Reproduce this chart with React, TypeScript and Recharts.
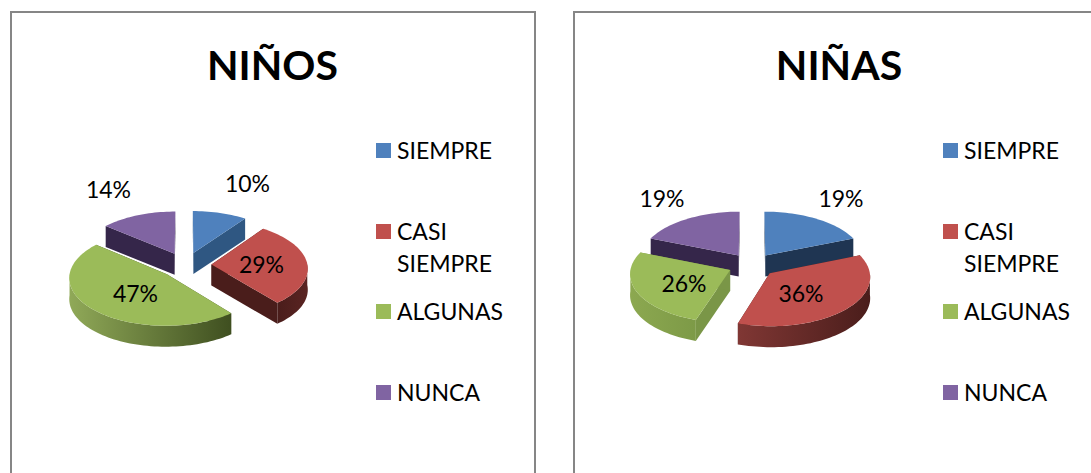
import { Legend, Pie, PieChart } from 'recharts';

const categories = ['SIEMPRE', 'CASI SIEMPRE', 'ALGUNAS', 'NUNCA'];
const ninosValues = [10, 29, 47, 14];
const ninasValues = [19, 36, 26, 19];
const topColors = ['#4f81bd', '#c0504d', '#9bbb59', '#8064a2'];

const FONT = 'Lato, "Open Sans", sans-serif';
const CHART_W = 522;
const CHART_H = 476;
const TILT = 0.49; // vertical squash of the disc
const PERSPECTIVE = 0.07;
const DEPTH = 21;

interface ChartStyle {
  id: string;
  title: string;
  titleX: number;
  values: number[];
  left: number;
  legendLeft: number;
  cx: number;
  cy: number;
  radius: number;
  explode: number;
  cutColors: string[];
  wallFrom: string[];
  wallTo: string[];
  labelOffsets: number[][];
}

const ninosStyle: ChartStyle = {
  id: 'ninos',
  title: 'NIÑOS',
  titleX: 260.5,
  values: ninosValues,
  left: 10,
  legendLeft: 364,
  cx: 173.5,
  cy: 252,
  radius: 96,
  explode: 26,
  cutColors: ['#2f5782', '#4a1d1b', '#3f4f20', '#35264a'],
  wallFrom: ['#2f5782', '#4a1d1b', '#90a958', '#35264a'],
  wallTo: ['#2f5782', '#5a2422', '#3f4f20', '#35264a'],
  labelOffsets: [[62, -82], [76, -1], [-50, 28], [-77, -76]],
};

const ninasStyle: ChartStyle = {
  id: 'ninas',
  title: 'NIÑAS',
  titleX: 264,
  values: ninasValues,
  left: 573,
  legendLeft: 368,
  cx: 177,
  cy: 252,
  radius: 99,
  explode: 24,
  cutColors: ['#1f3552', '#4a1d1b', '#7a9647', '#35264a'],
  wallFrom: ['#1f3552', '#803734', '#8ca850', '#35264a'],
  wallTo: ['#1f3552', '#4a1d1b', '#7d9a47', '#35264a'],
  labelOffsets: [[89, -67], [49, 28], [-68, 18], [-90, -67]],
};

const rad = (deg: number) => (deg * Math.PI) / 180;

const toPath = (pts: number[][]) =>
  pts.map((p, i) => `${i === 0 ? 'M' : 'L'}${p[0].toFixed(2)},${p[1].toFixed(2)}`).join(' ') + ' Z';

// Recharts hands over the angles; this draws them as a tilted, extruded, exploded slice
const makeSector = (style: ChartStyle, backLayer: boolean) => (props: any) => {
  const { cx, cy, outerRadius, startAngle, endAngle, index } = props;
  const mid = (startAngle + endAngle) / 2;
  const isBack = Math.sin(rad(mid)) > 0.3;
  if (isBack !== backLayer) return <g />;

  const ex = style.explode * Math.cos(rad(mid));
  const ey = -style.explode * Math.sin(rad(mid)) * TILT;
  const ry = outerRadius * TILT;
  const project = (dx: number, dy: number) => {
    const s = 1 + (PERSPECTIVE * dy) / ry;
    return [cx + dx * s, cy + dy * s];
  };
  const down = (p: number[]) => [p[0], p[1] + DEPTH];

  const apex = project(ex, ey);
  const arc: number[][] = [];
  const front: number[][] = [];
  const steps = Math.max(2, Math.ceil(Math.abs(startAngle - endAngle) / 2));
  for (let i = 0; i <= steps; i++) {
    const a = startAngle + ((endAngle - startAngle) * i) / steps;
    const p = project(ex + outerRadius * Math.cos(rad(a)), ey - outerRadius * Math.sin(rad(a)) * TILT);
    arc.push(p);
    if (Math.sin(rad(a)) < 0.02) front.push(p);
  }
  const first = arc[0];
  const last = arc[arc.length - 1];
  const gradId = `${style.id}-wall-${index}`;
  const xs = front.map((p) => p[0]);

  return (
    <g>
      <defs>
        {front.length > 1 && (
          <linearGradient
            id={gradId}
            gradientUnits="userSpaceOnUse"
            x1={Math.min(...xs)}
            x2={Math.max(...xs)}
            y1={0}
            y2={0}
          >
            <stop offset="0%" stopColor={style.wallFrom[index]} />
            <stop offset="100%" stopColor={style.wallTo[index]} />
          </linearGradient>
        )}
      </defs>
      <path d={toPath([apex, first, down(first), down(apex)])} fill={style.cutColors[index]} />
      <path d={toPath([apex, last, down(last), down(apex)])} fill={style.cutColors[index]} />
      {front.length > 1 && (
        <path d={toPath([...front, ...[...front].reverse().map(down)])} fill={`url(#${gradId})`} />
      )}
      <path d={toPath([apex, ...arc])} fill={props.fill} />
    </g>
  );
};

// both Pie layers report legend entries, so only the first of each name is kept
const renderLegend = (props: any) => {
  const seen = new Set<string>();
  const items = props.payload.filter((entry: any) => {
    if (seen.has(entry.value)) return false;
    seen.add(entry.value);
    return true;
  });
  return (
    <div style={{ fontFamily: FONT, fontSize: 23, color: '#000' }}>
      {items.map((entry: any) => (
        <div key={entry.value} style={{ display: 'flex', height: 80.7, alignItems: 'flex-start' }}>
          <span style={{ width: 15, height: 15, marginTop: 9, marginRight: 6, background: entry.color }} />
          <span style={{ width: 112, lineHeight: '32px' }}>{entry.value}</span>
        </div>
      ))}
    </div>
  );
};

function ChartBox({ style }: { style: ChartStyle }) {
  const data = categories.map((name, i) => ({ name, value: style.values[i], fill: topColors[i] }));

  const renderLabel = (props: any) => {
    const offset = style.labelOffsets[props.index];
    return (
      <text
        x={style.cx + offset[0]}
        y={style.cy + offset[1]}
        textAnchor="middle"
        dominantBaseline="central"
        fontFamily={FONT}
        fontSize={23}
        fill="#000"
      >
        {`${props.value}%`}
      </text>
    );
  };

  return (
    <div
      style={{
        position: 'absolute',
        left: style.left,
        top: 11,
        width: CHART_W,
        height: CHART_H,
        border: '2px solid #868686',
        background: '#fff',
      }}
    >
      <PieChart width={CHART_W} height={CHART_H} margin={{ top: 0, right: 0, bottom: 0, left: 0 }}>
        <text
          x={style.titleX}
          y={51}
          textAnchor="middle"
          dominantBaseline="central"
          fontFamily={FONT}
          fontWeight={700}
          fontSize={41}
          fill="#000"
        >
          {style.title}
        </text>
        <Pie
          data={data}
          dataKey="value"
          nameKey="name"
          cx={style.cx}
          cy={style.cy}
          outerRadius={style.radius}
          startAngle={90}
          endAngle={-270}
          paddingAngle={0}
          stroke="none"
          legendType="none"
          isAnimationActive={false}
          shape={makeSector(style, true)}
        />
        <Pie
          data={data}
          dataKey="value"
          nameKey="name"
          cx={style.cx}
          cy={style.cy}
          outerRadius={style.radius}
          startAngle={90}
          endAngle={-270}
          paddingAngle={0}
          stroke="none"
          isAnimationActive={false}
          shape={makeSector(style, false)}
          label={renderLabel}
          labelLine={false}
        />
        <Legend
          content={renderLegend}
          itemSorter={null}
          wrapperStyle={{ left: style.legendLeft, top: 121, width: 150, bottom: 'auto', right: 'auto' }}
        />
      </PieChart>
    </div>
  );
}

export default function App() {
  return (
    <div
      style={{
        position: 'fixed',
        left: 0,
        top: 0,
        width: 1091,
        height: 473,
        overflow: 'hidden',
        background: '#fff',
      }}
    >
      <ChartBox style={ninosStyle} />
      <ChartBox style={ninasStyle} />
    </div>
  );
}
